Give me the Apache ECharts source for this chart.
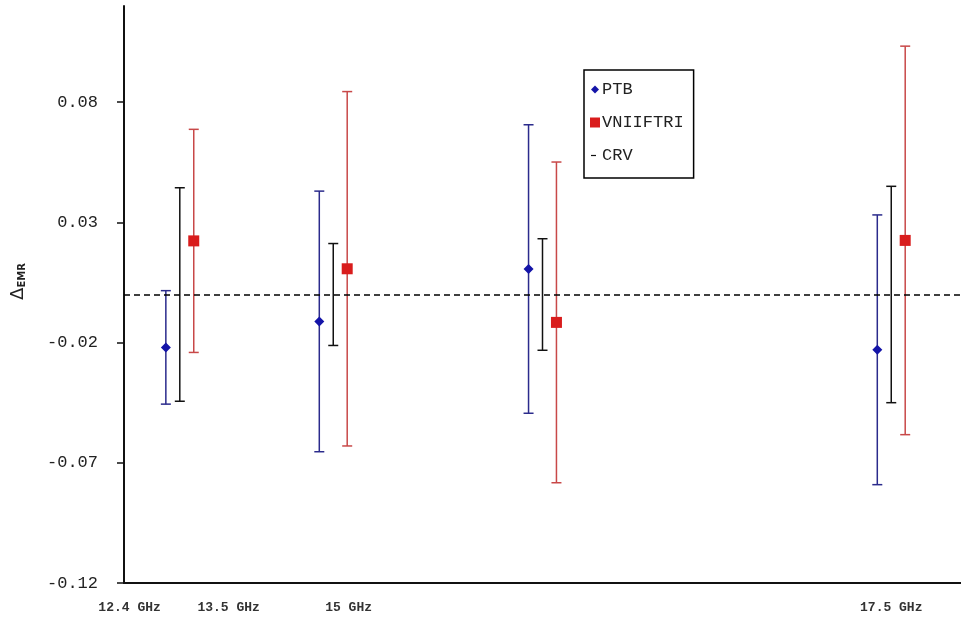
<!DOCTYPE html>
<html>
<head>
<meta charset="utf-8">
<script src="https://cdn.jsdelivr.net/npm/echarts@6/dist/echarts.min.js"></script>
<style>
  html, body { margin: 0; padding: 0; background: #fff; }
  #chart { width: 961px; height: 625px; }
</style>
</head>
<body>
<div id="chart"></div>
<script>
// Comparison frequencies (GHz)
const frequencies = [12.4, 13.5, 15, 17.5];
const frequencyLabels = ['12.4 GHz', '13.5 GHz', '15 GHz', '17.5 GHz'];
// Axis values (GHz) under which the frequency labels are written
const frequencyLabelAt = [12.04, 12.75, 13.61, 17.5];

// PTB: deviation and expanded uncertainty
const ptbValues = [-0.0220, -0.0112, 0.0106, -0.0230];
const ptbUnc = [0.0236, 0.0542, 0.0600, 0.0561];

// VNIIFTRI: deviation and expanded uncertainty
const vniiftriValues = [0.0223, 0.0107, -0.0116, 0.0225];
const vniiftriUnc = [0.0464, 0.0737, 0.0667, 0.0808];

// CRV: reference value and its uncertainty
const crvValue = 0;
const crvUnc = [0.0444, 0.0212, 0.0232, 0.0450];

// Y tick values
const yTicks = [-0.12, -0.07, -0.02, 0.03, 0.08];

// Horizontal spread of the three participants around each frequency (GHz)
const SHIFT_PTB = -0.1;
const SHIFT_VNIIFTRI = 0.1;

const MONO = '"Liberation Mono", "Courier New", monospace';
const PTB_COLOR = '#1414a8';
const VNIIFTRI_COLOR = '#d91c1c';

function barData(values, unc, shift) {
  return frequencies.map((f, i) => [f + shift, values[i] - unc[i], values[i] + unc[i]]);
}
function pointData(values, shift) {
  return frequencies.map((f, i) => [f + shift, values[i]]);
}

function errorBar(color) {
  return function (params, api) {
    const x = api.value(0);
    const lo = api.coord([x, api.value(1)]);
    const hi = api.coord([x, api.value(2)]);
    const half = 5;
    const style = { stroke: color, lineWidth: 1.5 };
    return {
      type: 'group',
      children: [
        { type: 'line', shape: { x1: lo[0], y1: hi[1], x2: lo[0], y2: lo[1] }, style },
        { type: 'line', shape: { x1: lo[0] - half, y1: hi[1], x2: lo[0] + half, y2: hi[1] }, style },
        { type: 'line', shape: { x1: lo[0] - half, y1: lo[1], x2: lo[0] + half, y2: lo[1] }, style }
      ]
    };
  };
}

const chart = echarts.init(document.getElementById('chart'), null, { renderer: 'canvas' });

chart.setOption({
  animation: false,
  backgroundColor: '#fff',
  grid: { left: 124, right: 0, top: 6, bottom: 42 },
  legend: {
    orient: 'vertical',
    left: 584,
    top: 70,
    padding: [11, 10, 14, 6],
    borderColor: '#000',
    borderWidth: 1.5,
    itemGap: 16,
    itemWidth: 10,
    itemHeight: 10,
    textStyle: { fontFamily: MONO, fontSize: 17, color: '#222', padding: [0, 0, 0, -3] },
    data: [
      { name: 'PTB', icon: 'path://M0,0M5,1L9,5L5,9L1,5ZM10,10', itemStyle: { color: PTB_COLOR } },
      { name: 'VNIIFTRI', icon: 'rect', itemStyle: { color: VNIIFTRI_COLOR } },
      { name: 'CRV', icon: 'path://M0,0M1,4.4H6V5.6H1ZM10,10', itemStyle: { color: '#111' } }
    ]
  },
  xAxis: {
    type: 'value',
    min: 12,
    max: 18,
    splitLine: { show: false },
    axisLine: { onZero: false, lineStyle: { color: '#111', width: 2 } },
    axisTick: { show: false },
    axisLabel: {
      customValues: frequencyLabelAt,
      margin: 18,
      fontFamily: MONO,
      fontSize: 13,
      fontWeight: 'bold',
      color: '#333',
      formatter: function (v) {
        let best = 0;
        frequencyLabelAt.forEach((p, i) => {
          if (Math.abs(p - v) < Math.abs(frequencyLabelAt[best] - v)) best = i;
        });
        return frequencyLabels[best];
      }
    }
  },
  yAxis: {
    type: 'value',
    min: -0.12,
    max: 0.12,
    name: '{d|Δ}{s|EMR}',
    nameLocation: 'middle',
    nameRotate: 90,
    nameGap: 97,
    nameTextStyle: {
      padding: [0, 0, 0, 26],
      rich: {
        d: { fontFamily: 'DejaVu Sans', fontSize: 18, color: '#222' },
        s: { fontFamily: 'DejaVu Sans', fontSize: 10, color: '#222', fontWeight: 'bold', padding: [8, 0, 0, 0] }
      }
    },
    splitLine: { show: false },
    axisLine: { onZero: false, lineStyle: { color: '#111', width: 2 } },
    axisTick: { customValues: yTicks, length: 7, lineStyle: { color: '#111', width: 1.5 } },
    axisLabel: {
      customValues: yTicks,
      margin: 26,
      fontFamily: MONO,
      fontSize: 17,
      color: '#222',
      formatter: v => v.toFixed(2)
    }
  },
  series: [
    {
      name: 'CRV',
      type: 'custom',
      itemStyle: { color: '#111' },
      renderItem: errorBar('#111'),
      encode: { x: 0, y: [1, 2] },
      data: frequencies.map((f, i) => [f, crvValue - crvUnc[i], crvValue + crvUnc[i]]),
      markLine: {
        silent: true,
        symbol: 'none',
        label: { show: false },
        lineStyle: { color: '#000', width: 1.5, type: [6, 4] },
        data: [{ yAxis: crvValue }]
      },
      z: 2
    },
    {
      name: 'PTB',
      type: 'custom',
      itemStyle: { color: PTB_COLOR },
      renderItem: errorBar('#2b2b8c'),
      encode: { x: 0, y: [1, 2] },
      data: barData(ptbValues, ptbUnc, SHIFT_PTB),
      z: 2
    },
    {
      name: 'VNIIFTRI',
      type: 'custom',
      itemStyle: { color: VNIIFTRI_COLOR },
      renderItem: errorBar('#c84848'),
      encode: { x: 0, y: [1, 2] },
      data: barData(vniiftriValues, vniiftriUnc, SHIFT_VNIIFTRI),
      z: 2
    },
    {
      name: 'PTB',
      type: 'scatter',
      symbol: 'diamond',
      symbolSize: [10, 10],
      itemStyle: { color: PTB_COLOR, opacity: 1 },
      data: pointData(ptbValues, SHIFT_PTB),
      z: 5
    },
    {
      name: 'VNIIFTRI',
      type: 'scatter',
      symbol: 'rect',
      symbolSize: 11,
      itemStyle: { color: VNIIFTRI_COLOR, opacity: 1 },
      data: pointData(vniiftriValues, SHIFT_VNIIFTRI),
      z: 5
    }
  ]
});
</script>
</body>
</html>
